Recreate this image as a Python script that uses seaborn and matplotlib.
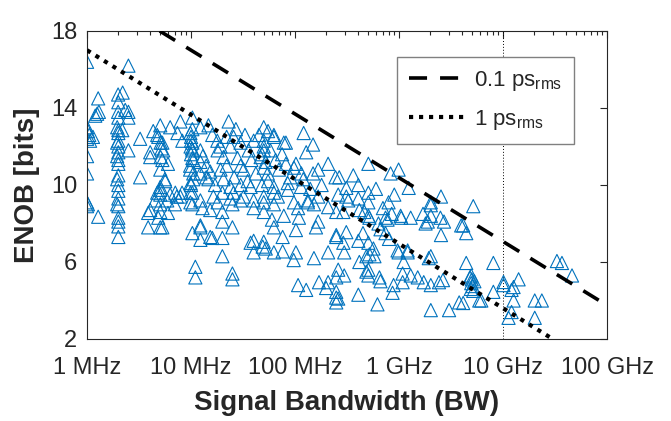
import numpy as np
import matplotlib
matplotlib.use("Agg")
import matplotlib.pyplot as plt
from matplotlib.ticker import LogLocator, NullFormatter
import pandas as pd
import seaborn as sns

# Published converters: (bandwidth in MHz, ENOB in bits)
pts_1mhz = [(1.0, 16.4), (1.0, 13.0), (1.02, 12.8), (1.05, 12.6), (1.0, 12.4), (1.07, 12.3),
            (1.14, 12.5), (1.0, 11.5), (1.0, 10.6), (1.0, 9.1), (1.0, 8.9), (1.02, 9.0),
            (1.28, 14.5), (1.25, 13.7), (1.2, 13.6), (1.3, 13.8), (1.28, 8.35)]
pts_2mhz = [(1.99, 14.7), (2.0, 14.3), (1.99, 13.8), (2.0, 13.5), (1.95, 13.0), (2.0, 12.85),
            (2.0, 12.7), (2.0, 12.3), (1.95, 12.2), (2.0, 12.0), (2.0, 11.7), (1.95, 11.5),
            (2.0, 11.3), (2.0, 11.1), (2.0, 10.5), (1.95, 10.3), (2.0, 10.0), (2.0, 9.7),
            (2.0, 9.3), (1.95, 9.0), (2.0, 8.9), (2.0, 8.3), (2.0, 8.1), (2.0, 7.85),
            (2.0, 7.3), (2.18, 12.85), (2.2, 14.8), (2.5, 16.2), (2.5, 13.8), (2.5, 13.5),
            (2.33, 13.9), (2.5, 11.8), (3.24, 12.4), (3.24, 10.4)]
pts_5mhz = [(4.05, 11.7), (4.73, 12.6), (5.06, 13.1), (6.3, 13.0), (7.9, 13.3), (4.33, 12.8),
            (5.1, 12.2), (5.2, 11.9), (5.1, 11.45), (5.3, 11.3), (6.0, 11.1), (5.6, 10.3),
            (5.06, 9.9), (4.84, 12.5), (5.3, 12.2), (5.4, 11.8), (7.4, 12.7), (8.25, 12.3),
            (5.06, 10.8), (4.05, 11.45), (4.73, 9.6), (5.9, 9.2), (7.9, 9.4), (4.05, 8.7),
            (3.87, 8.55), (5.06, 9.0), (5.06, 8.6), (6.0, 8.55), (4.84, 8.3), (3.87, 7.8),
            (5.06, 7.8), (5.3, 7.8), (5.06, 9.75), (5.06, 9.5), (6.3, 9.5), (8.2, 9.6),
            (7.3, 9.4), (4.5, 9.2), (7.0, 9.0), (5.65, 10.2), (7.06, 9.6)]
pts_10mhz = [(10.3, 13.5), (9.86, 12.7), (10.0, 12.5), (10.3, 12.2), (9.9, 12.0), (10.3, 11.8),
             (10.0, 11.6), (10.5, 11.3), (9.8, 11.0), (9.8, 10.8), (10.5, 10.6), (10.5, 10.3),
             (10.0, 10.0), (9.86, 9.6), (10.3, 9.6), (10.3, 9.0), (9.86, 9.1), (10.3, 7.5),
             (11.0, 5.75), (11.0, 5.2), (10.3, 12.9), (10.0, 12.3), (10.2, 11.9), (10.3, 11.4),
             (9.9, 10.1), (12.3, 13.0), (14.7, 13.1), (12.3, 11.8), (13.0, 11.5), (14.0, 11.0),
             (12.3, 11.2), (15.3, 10.7), (14.0, 10.4), (12.3, 10.6), (14.7, 10.3), (17.9, 12.3),
             (19.2, 12.0), (20.5, 11.45), (19.2, 10.8), (20.5, 10.3), (16.4, 9.4), (12.3, 9.2),
             (12.9, 8.8), (15.3, 8.7), (12.3, 7.8), (12.3, 7.15), (15.3, 7.3), (12.3, 7.9),
             (18.0, 9.1), (20.0, 9.6), (20.0, 8.6), (20.0, 8.1), (16.0, 7.25), (20.0, 7.25),
             (20.0, 6.3), (16.0, 12.6), (18.0, 11.8), (17.0, 10.0)]
pts_30mhz = [(23.9, 12.0), (25.6, 12.5), (29.9, 12.2), (35.8, 11.8), (40.0, 12.3), (23.9, 9.9),
             (25.6, 9.6), (29.9, 9.2), (37.4, 9.9), (40.0, 9.2), (23.9, 9.3), (25.0, 9.0),
             (32.0, 9.4), (40.0, 8.8), (25.0, 7.8), (40.0, 7.1), (37.4, 7.0), (40.0, 6.5),
             (25.0, 5.4), (25.0, 5.1), (22.0, 11.0), (28.0, 11.4), (32.0, 10.8), (26.0, 10.4),
             (35.0, 10.2), (30.0, 11.0), (27.0, 12.9), (22.0, 12.5), (33.0, 12.6), (38.0, 11.3),
             (42.0, 10.6), (30.0, 10.0), (23.0, 13.3)]
pts_70mhz = [(50.0, 13.0), (50.0, 12.3), (50.0, 11.8), (46.7, 11.45), (50.0, 10.9), (54.7, 10.6),
             (62.6, 12.5), (78.0, 12.2), (81.7, 11.1), (97.6, 10.9), (50.0, 9.4), (62.6, 9.9),
             (68.4, 9.4), (85.4, 9.75), (97.6, 9.1), (50.0, 9.1), (50.0, 8.6), (62.6, 9.6),
             (62.6, 9.0), (78.0, 8.4), (62.6, 12.6), (81.7, 12.2), (50.0, 7.05), (52.3, 6.7),
             (48.9, 6.8), (62.6, 7.8), (76.0, 7.3), (62.6, 6.5), (76.0, 6.55), (50.0, 12.0),
             (48.0, 11.6), (52.0, 11.2), (55.0, 10.2), (48.0, 10.0), (58.0, 11.8), (65.0, 11.3),
             (70.0, 10.8), (75.0, 11.6), (90.0, 10.4), (55.0, 12.8), (45.0, 12.6), (85.0, 10.1),
             (60.0, 8.2)]
pts_200mhz = [(121, 12.7), (149, 12.1), (128, 11.7), (149, 10.6), (167, 10.8), (208, 11.1),
              (245, 10.4), (102, 11.1), (114, 9.9), (133, 9.2), (167, 9.4), (107, 8.8),
              (109, 8.3), (133, 9.1), (152, 9.0), (167, 8.1), (208, 8.85), (249, 8.6),
              (102, 7.66), (102, 6.5), (97, 6.1), (152, 6.2), (208, 6.5), (249, 7.3),
              (107, 4.8), (128, 4.55), (170, 4.95), (208, 4.95), (199, 4.65), (249, 4.45),
              (249, 4.15), (159, 7.8), (266, 10.4), (260, 9.5), (291, 8.6), (249, 7.4),
              (260, 5.6), (297, 5.3), (249, 5.2), (260, 4.1), (249, 3.9), (291, 7.0),
              (297, 6.5), (120, 10.3), (140, 9.8), (180, 10.0), (115, 10.6)]
pts_600mhz = [(507, 11.1), (829, 10.6), (990, 10.8), (363, 10.5), (406, 10.0), (311, 9.85),
              (507, 9.6), (311, 9.4), (406, 9.3), (507, 9.1), (793, 9.1), (415, 8.7),
              (507, 8.4), (519, 8.3), (741, 8.3), (850, 8.5), (311, 7.55), (406, 7.1),
              (507, 7.0), (990, 6.5), (519, 6.4), (485, 6.3), (580, 6.3), (415, 6.0),
              (507, 5.6), (507, 5.3), (648, 5.2), (663, 5.0), (886, 4.8), (866, 4.4),
              (406, 4.3), (620, 3.8), (325, 9.2), (464, 8.6), (634, 8.0), (663, 7.7),
              (741, 7.5), (775, 8.2), (567, 6.7), (485, 5.5), (900, 9.5), (600, 9.8),
              (700, 8.8), (450, 7.5), (800, 7.2)]
pts_2ghz = [(1238, 9.85), (2020, 9.1), (2020, 8.95), (2530, 9.4), (1050, 8.3), (1700, 8.5),
            (2020, 8.4), (2500, 8.3), (1800, 8.0), (2705, 8.1), (3957, 7.9), (2530, 7.4),
            (1210, 6.5), (1107, 6.0), (2020, 6.3), (1082, 5.4), (1294, 5.3), (1512, 5.2),
            (1728, 4.95), (2020, 4.8), (2420, 4.95), (2645, 5.06), (1082, 4.95), (2020, 3.5),
            (3025, 3.5), (3785, 3.9), (1035, 8.4), (1294, 8.3), (1889, 8.1), (968, 6.6),
            (1210, 6.6), (1932, 6.2), (4137, 7.9), (4425, 7.5)]
pts_10ghz = [(5170, 8.9), (4425, 5.95), (8068, 5.95), (32960, 6.05), (36840, 5.95), (46030, 5.3),
             (4945, 5.3), (5000, 5.1), (4945, 4.9), (5100, 4.75), (4900, 4.6), (5170, 4.5),
             (5300, 5.0), (4800, 5.2), (10100, 4.96), (10100, 4.8), (12620, 4.7), (12070, 4.55),
             (14110, 5.1), (8068, 4.45), (6177, 4.0), (4137, 3.87), (12620, 4.0), (20170, 4.0),
             (23600, 4.0), (11290, 3.1), (12070, 3.4), (20170, 3.1), (5908, 4.0)]

# jitter limit lines (endpoints)
jit01_bw = [5e6, 9e10]
jit01_enob = [18.0, 3.9]
jit1_bw = [1e6, 3e10]
jit1_enob = [17.0, 2.0]

xtick_vals = [1e6, 1e7, 1e8, 1e9, 1e10, 1e11]
xtick_labels = ["1 MHz", "10 MHz", "100 MHz", "1 GHz", "10 GHz", "100 GHz"]
ytick_vals = [2, 6, 10, 14, 18]

all_pts = np.array(pts_1mhz + pts_2mhz + pts_5mhz + pts_10mhz + pts_30mhz + pts_70mhz
                   + pts_200mhz + pts_600mhz + pts_2ghz + pts_10ghz)
df = pd.DataFrame({"bw": all_pts[:, 0] * 1e6, "enob": all_pts[:, 1]})

sns.set_style("white")
plt.rcParams["font.family"] = ["Liberation Sans", "DejaVu Sans"]
plt.rcParams["mathtext.fontset"] = "custom"
plt.rcParams["mathtext.rm"] = "Liberation Sans"

fig = plt.figure(figsize=(6.71, 4.21), dpi=100)
ax = fig.add_axes([0.1297, 0.1948, 0.775, 0.7316])

sns.scatterplot(data=df, x="bw", y="enob", marker="^", s=90, facecolors="none",
                edgecolor="#0072BD", linewidth=0.8, ax=ax, zorder=2)

ax.axvline(1e10, color="k", lw=0.7, ls=(0, (1, 2)), zorder=1)
ax.plot(jit01_bw, jit01_enob, color="k", lw=2.6, dashes=(5, 3.6), dash_capstyle="butt",
        label=r"0.1 ps$_{\mathrm{rms}}$", zorder=3)
ax.plot(jit1_bw, jit1_enob, color="k", lw=3.0, dashes=(1.0, 1.4), dash_capstyle="butt",
        label=r"1 ps$_{\mathrm{rms}}$", zorder=3)

ax.set_xscale("log")
ax.set_xlim(1e6, 1e11)
ax.set_ylim(2, 18)
ax.set_xticks(xtick_vals)
ax.set_xticklabels(xtick_labels)
ax.xaxis.set_minor_locator(LogLocator(base=10, subs=np.arange(2, 10)))
ax.xaxis.set_minor_formatter(NullFormatter())
ax.set_yticks(ytick_vals)

for sp in ax.spines.values():
    sp.set_color("#262626")
    sp.set_linewidth(0.8)
ax.tick_params(which="both", direction="in", top=True, right=True, color="#262626", width=0.8)
ax.tick_params(which="major", length=5, labelsize=17, labelcolor="#262626")
ax.tick_params(which="minor", length=3)
ax.tick_params(axis="x", pad=13)
ax.tick_params(axis="y", pad=7)

ax.set_xlabel("Signal Bandwidth (BW)", fontsize=20, fontweight="bold", color="#262626", labelpad=8)
ax.set_ylabel("ENOB [bits]", fontsize=20, fontweight="bold", color="#262626", labelpad=8)

leg = ax.legend(loc="upper right", bbox_to_anchor=(0.937, 0.916), borderaxespad=0,
                fontsize=16, frameon=True, fancybox=False, framealpha=1,
                edgecolor="#808080", handlelength=2.6, handletextpad=0.3,
                labelspacing=0.65, borderpad=0.55)
leg.get_frame().set_linewidth(1.0)

fig.savefig("out.png", dpi=100)
